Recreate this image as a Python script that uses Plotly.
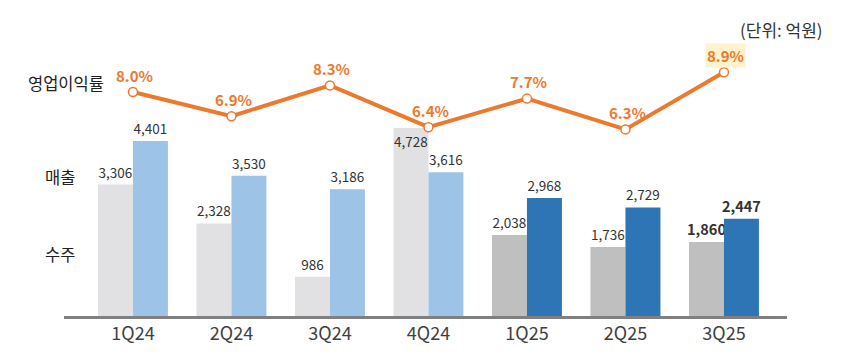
import plotly.graph_objects as go

quarters = ["1Q24", "2Q24", "3Q24", "4Q24", "1Q25", "2Q25", "3Q25"]
orders = [3306, 2328, 986, 4728, 2038, 1736, 1860]       # 수주
sales = [4401, 3530, 3186, 3616, 2968, 2729, 2447]       # 매출
op_margin = [8.0, 6.9, 8.3, 6.4, 7.7, 6.3, 8.9]          # 영업이익률 (%)

gray_colors = ["#E1E1E3"] * 4 + ["#BFBFBF"] * 3
blue_colors = ["#9DC3E6"] * 4 + ["#2E75B6"] * 3

FONT = "Noto Sans CJK KR"
ORANGE = "#EB7A2E"

def labels(vals):
    out = []
    for i, v in enumerate(vals):
        s = f"{v:,}"
        out.append(f"<b>{s}</b>" if i == len(vals) - 1 else s)
    return out

sizes = [13.5] * 6 + [14.5]
order_pos = ["outside", "outside", "outside", "inside", "outside", "outside", "outside"]

# page offset (browser body margin)
OFF = 8
FW, FH = 842 - OFF, 357 - OFF
W0, W1, B, T = 64, 787, 316, 20   # plot area in screenshot pixels

fig = go.Figure()
fig.add_trace(go.Bar(
    x=quarters, y=orders, marker=dict(color=gray_colors, line=dict(width=0)),
    text=labels(orders), textposition=order_pos, insidetextanchor="end", textangle=0,
    constraintext="none", cliponaxis=False,
    textfont=dict(family=FONT, size=sizes, color="#333333"), name="수주",
))
fig.add_trace(go.Bar(
    x=quarters, y=sales, marker=dict(color=blue_colors, line=dict(width=0)),
    text=labels(sales), textposition="outside", textangle=0,
    constraintext="none", cliponaxis=False,
    textfont=dict(family=FONT, size=sizes, color="#333333"), name="매출",
))
fig.add_trace(go.Scatter(
    x=quarters, y=op_margin, yaxis="y2", mode="lines+markers",
    line=dict(color=ORANGE, width=4),
    marker=dict(size=9, color="white", line=dict(color=ORANGE, width=1.5)),
    cliponaxis=False, name="영업이익률",
))

annotations = []
for i, (q, m) in enumerate(zip(quarters, op_margin)):
    annotations.append(dict(
        x=q, y=m, xref="x", yref="y2", text=f"<b>{m:.1f}%</b>", showarrow=False,
        yshift=17, xshift=2, font=dict(family=FONT, size=15, color=ORANGE),
        bgcolor="#FFF2CC" if i == len(quarters) - 1 else None, borderpad=1,
    ))

def px(xp):
    return (xp - W0) / (W1 - W0)
def py(yp):
    return (B - yp) / (B - T)

for txt, xp, yp in [("영업이익률", 65.5, 83), ("매출", 60, 177), ("수주", 60, 254)]:
    annotations.append(dict(x=px(xp), y=py(yp), xref="paper", yref="paper", text=txt,
                            showarrow=False, xanchor="center", yanchor="middle",
                            font=dict(family=FONT, size=16.5, color="#222222")))
annotations.append(dict(x=px(825), y=py(30), xref="paper", yref="paper", text="(단위: 억원)",
                        showarrow=False, xanchor="right", yanchor="middle",
                        font=dict(family=FONT, size=17, color="#333333")))

ymax = (B - T) / 0.03976
fig.update_layout(
    width=FW, height=FH,
    margin=dict(l=W0 - OFF, r=842 - W1, t=T - OFF, b=357 - B, pad=0),
    paper_bgcolor="white", plot_bgcolor="white",
    barmode="group", bargap=0.29, bargroupgap=0,
    showlegend=False,
    xaxis=dict(range=[-0.70, 6.64], showline=True, linecolor="#808080", linewidth=2.5,
               ticks="", showgrid=False, zeroline=False,
               tickfont=dict(family=FONT, size=18, color="#404040")),
    yaxis=dict(range=[0, ymax], visible=False, showgrid=False),
    yaxis2=dict(range=[8.0 - (B - 92) / 22.0, 8.0 + (92 - T) / 22.0], overlaying="y",
                visible=False, showgrid=False),
    annotations=annotations,
)

fig.write_html("out.html")
